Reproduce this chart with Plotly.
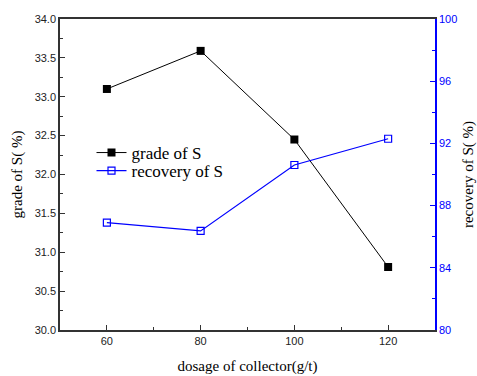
import plotly.graph_objects as go

dosage = [60, 80, 100, 120]
grade = [33.10, 33.59, 32.45, 30.81]
recovery = [86.90, 86.37, 90.61, 92.30]

serif = "Liberation Serif"
sans = "Liberation Sans"
blue = "#0000ff"

fig = go.Figure()
fig.add_trace(go.Scatter(
    x=dosage, y=grade, name="grade of S", mode="lines+markers", legend="legend",
    line=dict(color="black", width=1),
    marker=dict(symbol="square", size=8, color="black"),
))
fig.add_trace(go.Scatter(
    x=dosage, y=recovery, name="recovery of S", mode="lines+markers", yaxis="y2", legend="legend2",
    line=dict(color=blue, width=1.2),
    marker=dict(symbol="square-open", size=7, color=blue, line=dict(width=1.2, color=blue)),
))

leg_common = dict(xanchor="left", yanchor="middle",
                  font=dict(family=serif, size=17, color="black"),
                  bgcolor="rgba(0,0,0,0)", itemwidth=30)

fig.update_layout(
    width=477, height=376,
    margin=dict(l=60, r=42, t=19, b=46),
    paper_bgcolor="white", plot_bgcolor="white",
    showlegend=True,
    legend=dict(x=0.084, y=(330 - 153) / 311, **leg_common),
    legend2=dict(x=0.084, y=(330 - 171) / 311, **leg_common),
    xaxis=dict(
        range=[50, 130], tick0=60, dtick=20, ticks="inside", ticklen=5, tickwidth=1,
        tickcolor="#333", showgrid=False, zeroline=False, automargin=False,
        showline=True, linecolor="#333", linewidth=1.5, mirror=True,
        tickfont=dict(family=sans, size=11, color="#222"),
        minor=dict(dtick=10, tick0=60, ticks="inside", ticklen=3, tickcolor="#333", showgrid=False),
        title=dict(text="dosage of collector(g/t)", font=dict(family=serif, size=15, color="black"), standoff=15),
    ),
    yaxis=dict(
        range=[30, 34], dtick=0.5, tick0=30, tickformat=".1f", ticks="inside", ticklen=5,
        tickcolor="#333", showgrid=False, zeroline=False, automargin=False,
        showline=True, linecolor="#333", linewidth=1.5,
        tickfont=dict(family=sans, size=11, color="#222"),
        minor=dict(dtick=0.25, ticks="inside", ticklen=3, tickcolor="#333", showgrid=False),
        title=dict(text="grade of S( %)", font=dict(family=serif, size=15, color="black"), standoff=8),
    ),
    yaxis2=dict(
        range=[80, 100], dtick=4, tick0=80, ticks="inside", ticklen=5,
        tickcolor=blue, showgrid=False, zeroline=False, overlaying="y", side="right",
        showline=True, linecolor=blue, linewidth=1.5, automargin=False,
        tickfont=dict(family=sans, size=11, color=blue),
        minor=dict(dtick=2, ticks="inside", ticklen=3, tickcolor=blue, showgrid=False),
        title=dict(text="recovery of S( %)", font=dict(family=serif, size=15, color="black"), standoff=14),
    ),
)

fig.write_html("out.html", config={"displayModeBar": False},
               post_script="document.body.style.margin='0';")
